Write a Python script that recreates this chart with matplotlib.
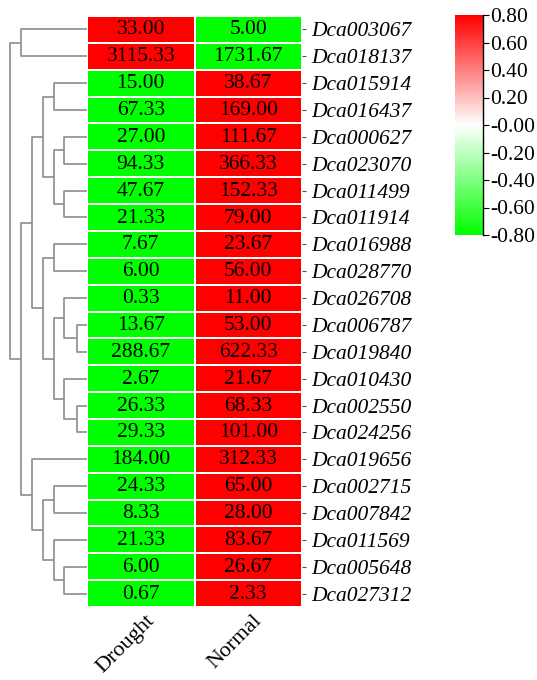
import numpy as np
import matplotlib
matplotlib.use("Agg")
import matplotlib.pyplot as plt
from matplotlib.colors import LinearSegmentedColormap

plt.rcParams["font.family"] = ["Liberation Serif", "DejaVu Serif"]

# data (rows top -> bottom, as clustered)
genes = ["Dca003067", "Dca018137", "Dca015914", "Dca016437", "Dca000627", "Dca023070",
         "Dca011499", "Dca011914", "Dca016988", "Dca028770", "Dca026708", "Dca006787",
         "Dca019840", "Dca010430", "Dca002550", "Dca024256", "Dca019656", "Dca002715",
         "Dca007842", "Dca011569", "Dca005648", "Dca027312"]
conditions = ["Drought", "Normal"]
drought = [33.00, 3115.33, 15.00, 67.33, 27.00, 94.33, 47.67, 21.33, 7.67, 6.00, 0.33,
           13.67, 288.67, 2.67, 26.33, 29.33, 184.00, 24.33, 8.33, 21.33, 6.00, 0.67]
normal = [5.00, 1731.67, 38.67, 169.00, 111.67, 366.33, 152.33, 79.00, 23.67, 56.00, 11.00,
          53.00, 622.33, 21.67, 68.33, 101.00, 312.33, 65.00, 28.00, 83.67, 26.67, 2.33]
cbar_ticks = [0.8, 0.6, 0.4, 0.2, 0.0, -0.2, -0.4, -0.6, -0.8]
cbar_labels = ["0.80", "0.60", "0.40", "0.20", "-0.00", "-0.20", "-0.40", "-0.60", "-0.80"]

# row clustering: (left, right, height); new node ids start at len(genes)
merges = [(11, 12, 10), (14, 15, 10), (4, 5, 23), (6, 7, 23), (10, 22, 23), (13, 23, 23),
          (20, 21, 23), (2, 3, 33), (24, 25, 33), (8, 9, 33), (26, 27, 33), (17, 18, 33),
          (19, 28, 33), (29, 30, 44), (31, 32, 44), (33, 34, 44), (35, 36, 55), (16, 37, 55),
          (0, 1, 66), (38, 39, 66), (40, 41, 77)]

vals = np.array([drought, normal]).T
z = (vals - vals.mean(axis=1, keepdims=True)) / vals.std(axis=1, keepdims=True)

cmap = LinearSegmentedColormap.from_list("gwr", ["#00ff00", "#ffffff", "#ff0000"])

W, H = 537, 680
fig = plt.figure(figsize=(W / 100, H / 100), dpi=100)

def frac(l, t, r, b):
    return [l / W, 1 - b / H, (r - l) / W, (b - t) / H]

nrow = len(genes)

# heatmap
ax = fig.add_axes(frac(87, 16, 302, 607))
ax.pcolormesh(z, cmap=cmap, vmin=-0.8, vmax=0.8, edgecolors="white", linewidth=1.2)
ax.set_xlim(0, 2)
ax.set_ylim(nrow, 0)
for i in range(nrow):
    for j in range(2):
        ax.text(j + 0.5, i + 0.52, "%.2f" % vals[i, j], ha="center", va="center",
                fontsize=15.5, color="black")
ax.set_xticks([])
ax.yaxis.tick_right()
ax.set_yticks(np.arange(nrow) + 0.5)
ax.set_yticklabels(genes, fontsize=15.5, style="italic")
ax.tick_params(axis="y", length=3, width=0.8, color="#555555", pad=4)
for s in ax.spines.values():
    s.set_visible(False)
for j, c in enumerate(conditions):
    ax.text(j + 0.54, nrow + 0.15, c, rotation=45, ha="right", va="top",
            rotation_mode="anchor", fontsize=16)

# dendrogram
dax = fig.add_axes(frac(0, 16, 87, 607))
pos = {i: (i + 0.5, 0.0) for i in range(nrow)}
for k, (a, b, h) in enumerate(merges):
    ya, ha_ = pos[a]
    yb, hb = pos[b]
    dax.plot([ha_, h, h, hb], [ya, ya, yb, yb], color="#8c8c8c", lw=1.2,
             solid_capstyle="butt")
    pos[nrow + k] = ((ya + yb) / 2, h)
dax.set_xlim(87, 0)
dax.set_ylim(nrow, 0)
dax.axis("off")

# colorbar
cax = fig.add_axes(frac(455, 15, 483, 235))
sm = plt.cm.ScalarMappable(cmap=cmap, norm=plt.Normalize(-0.8, 0.8))
cb = fig.colorbar(sm, cax=cax)
cb.outline.set_visible(False)
cb.set_ticks(cbar_ticks)
cb.set_ticklabels(cbar_labels)
cax.tick_params(labelsize=15.5, length=4, width=0.8, pad=1)
cax.plot([1, 1], [0, 1], transform=cax.transAxes, color="black", lw=1, clip_on=False)

fig.savefig("out.png", dpi=100)
